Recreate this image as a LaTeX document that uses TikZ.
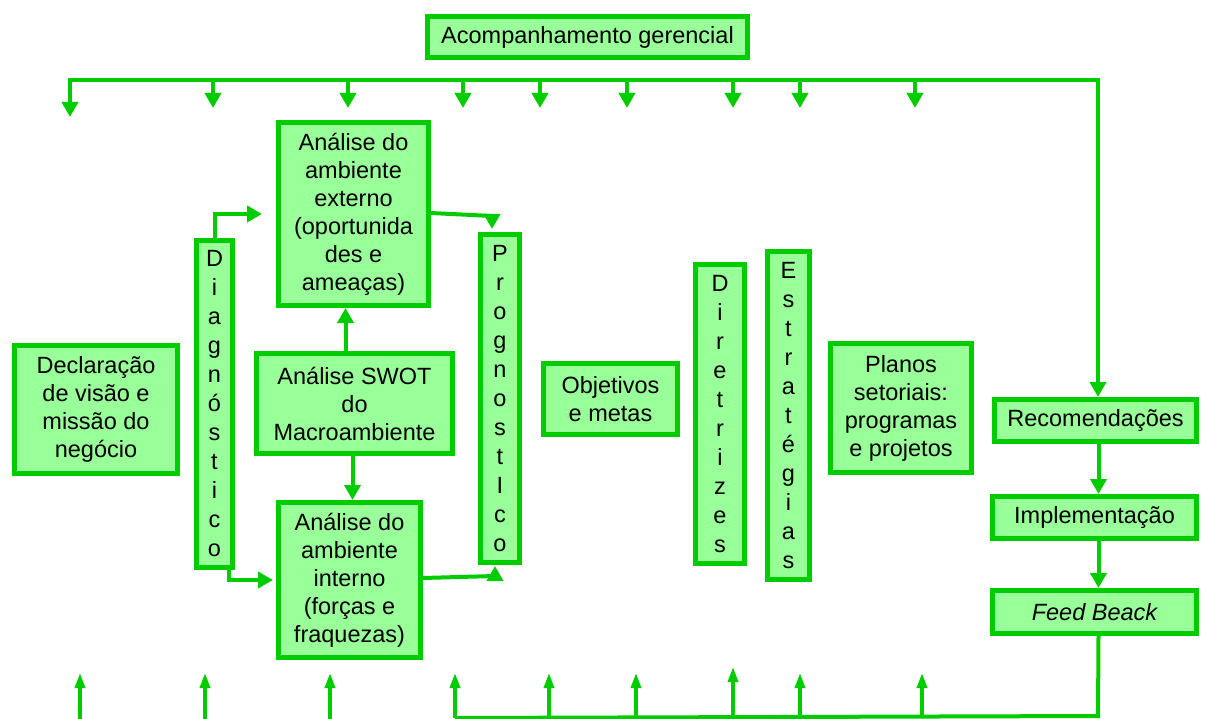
\documentclass[tikz,border=0pt]{standalone}
\usepackage{fontspec}
\setmainfont{Liberation Sans}
\usetikzlibrary{arrows.meta,calc}

\definecolor{linhaverde}{RGB}{0,204,0}
\definecolor{fundoverde}{RGB}{153,255,153}

\tikzset{
  caixa/.style={draw=linhaverde, fill=fundoverde, line width=5pt, align=center,
    inner sep=2pt, font=\fontsize{23.5}{28}\selectfont},
  coluna/.style={caixa, font=\fontsize{23.5}{29}\selectfont},
  fio/.style={draw=linhaverde, line width=4pt},
  seta/.style={fio, -{Triangle[width=16pt,length=15pt]}},
  setafina/.style={draw=linhaverde, line width=3.5pt, -{Triangle[width=10pt,length=15pt]}},
}

\begin{document}
\begin{tikzpicture}[x=1pt,y=1pt,yscale=-1,xscale=1]
        \useasboundingbox (0,0) rectangle (1209,719);

        %Shape: Rectangle [acomp]
        \node[caixa, minimum width=320pt, minimum height=41pt] (acomp) at (587.5,37) {Acompanhamento gerencial};
        %Shape: Rectangle [externo]
        \node[caixa, minimum width=150pt, minimum height=183pt] (externo) at (353.5,214) {An\'alise do\\ambiente\\externo\\(oportunida\\des e\\amea\c{c}as)};
        %Shape: Rectangle [diag]
        \node[coluna, minimum width=36pt, minimum height=327pt] (diag) at (214.5,404) {D\\i\\a\\g\\n\\\'o\\s\\t\\i\\c\\o};
        %Shape: Rectangle [prog]
        \node[coluna, minimum width=39pt, minimum height=328pt] (prog) at (500,398.5) {P\\r\\o\\g\\n\\o\\s\\t\\I\\c\\o};
        %Shape: Rectangle [decl]
        \node[caixa, minimum width=163pt, minimum height=128pt] (decl) at (96,409.5) {Declara\c{c}\~ao\\de vis\~ao e\\miss\~ao do\\neg\'ocio};
        %Shape: Rectangle [swot]
        \node[caixa, minimum width=196pt, minimum height=100pt] (swot) at (354.5,403.5) {An\'alise SWOT\\do\\Macroambiente};
        %Shape: Rectangle [interno]
        \node[caixa, minimum width=142pt, minimum height=155pt] (interno) at (349.5,580) {An\'alise do\\ambiente\\interno\\(for\c{c}as e\\fraquezas)};
        %Shape: Rectangle [objetivos]
        \node[caixa, minimum width=134pt, minimum height=71pt] (objetivos) at (610.5,399) {Objetivos\\e metas};
        %Shape: Rectangle [diretrizes]
        \node[coluna, minimum width=49pt, minimum height=299pt] (diretrizes) at (720,414) {D\\i\\r\\e\\t\\r\\i\\z\\e\\s};
        %Shape: Rectangle [estrategias]
        \node[coluna, minimum width=42pt, minimum height=328pt] (estrategias) at (788.5,415.5) {E\\s\\t\\r\\a\\t\\\'e\\g\\i\\a\\s};
        %Shape: Rectangle [planos]
        \node[caixa, minimum width=141pt, minimum height=129pt] (planos) at (901,408) {Planos\\setoriais:\\programas\\e projetos};
        %Shape: Rectangle [recom]
        \node[caixa, minimum width=202pt, minimum height=42pt] (recom) at (1095.5,420.5) {Recomenda\c{c}\~oes};
        %Shape: Rectangle [impl]
        \node[caixa, minimum width=204pt, minimum height=42pt] (impl) at (1094.5,517.5) {Implementa\c{c}\~ao};
        %Shape: Rectangle [feed]
        \node[caixa, minimum width=204pt, minimum height=43pt] (feed) at (1094.5,612) {\itshape Feed Beack};

        %Straight Lines [acompanhamento]
        \coordinate (topoE) at (70,80);
        \coordinate (topoD) at (1098,80);
        \coordinate (pontaE) at (70,117);
        \draw[fio, {Triangle[width=16pt,length=15pt]}-{Triangle[width=16pt,length=15pt]}] (pontaE) -- (topoE) -- (topoD) -- (topoD |- recom.north);
        \foreach \x in {213,348,463,540,627,733,800,915} {
          \coordinate (desce\x) at (\x,108);
          \draw[seta] (desce\x |- topoE) -- (desce\x);
        }

        %Straight Lines [diag]
        \draw[seta, shorten >=14pt] (diag.north) |- (externo.west);
        \draw[seta, shorten >=3pt] ([xshift=14pt]diag.south) |- (interno.west);
        %Straight Lines [prog]
        \coordinate (dobraA) at (492,216);
        \coordinate (dobraB) at (495,576);
        \draw[seta, shorten >=3pt] ([yshift=-1pt]externo.east) -- (dobraA) -- (dobraA |- prog.north);
        \draw[seta, shorten >=1pt] ([yshift=-2pt]interno.east) -- (dobraB) -- (dobraB |- prog.south);
        %Straight Lines [swot]
        \draw[seta] ([xshift=-9pt]swot.north) -- ([xshift=-9pt]swot.north |- externo.south);
        \draw[seta] ([xshift=-2pt]swot.south) -- ([xshift=-2pt]swot.south |- interno.north);
        %Straight Lines [recom]
        \draw[seta] ([xshift=3pt]recom.south) -- ([xshift=3pt]recom.south |- impl.north);
        \draw[seta] ([xshift=4pt]impl.south) -- ([xshift=4pt]impl.south |- feed.north);

        %Straight Lines [feedback]
        \coordinate (baseD) at (1098,716);
        \coordinate (baseE) at (455,718);
        \draw[fio] ([xshift=4pt]feed.south) -- (baseD) -- (baseE);
        \foreach \x in {455,549,636,800,922} {
          \coordinate (sobe\x) at (\x,673);
          \draw[setafina] (sobe\x |- baseE) -- (sobe\x);
        }
        \foreach \x in {80,205,330} {
          \coordinate (sobe\x) at (\x,673);
          \draw[setafina] (sobe\x |- 0,719) -- (sobe\x);
        }
        \coordinate (sobe733) at (733,667);
        \draw[setafina] (sobe733 |- 0,715) -- (sobe733);

\end{tikzpicture}
\end{document}
